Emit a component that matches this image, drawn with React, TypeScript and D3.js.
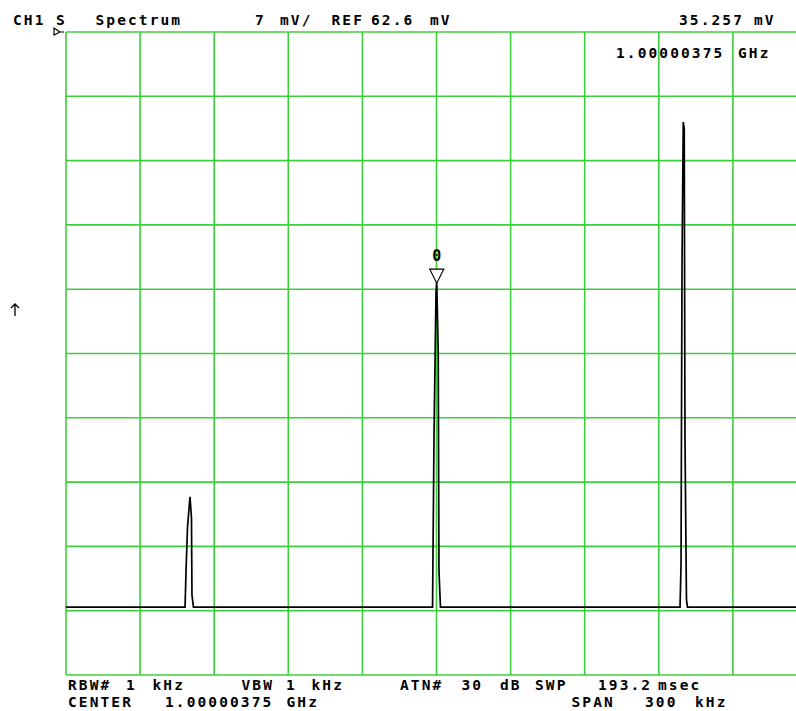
import React, { useEffect, useRef } from 'react';
import * as d3 from 'd3';

// trace points, frequency offset from center (kHz) and level (mV)
const traceKHz = [
  -150, -101.8, -101.4, -100.8, -99.8, -99.2, -99.0, -98.4,
  -1.6, -1.0, -0.2, 0.1, 0.7, 1.0, 1.6,
  98.6, 99.0, 99.4, 99.9, 100.3, 100.6, 101.2, 101.6, 150,
];
const traceMV = [
  0, 0, 4.0, 8.7, 12.0, 9.7, 1.3, 0,
  0, 18.9, 34.2, 35.257, 27.7, 4.0, 0,
  0, 4.6, 37.4, 52.8, 52.1, 18.4, 0.8, 0, 0,
];

const refLevel = 62.6; // mV, top of screen
const mvPerDiv = 7;
const spanKHz = 300;
const markerKHz = 0.1;
const markerMV = 35.257;

const headerTexts = [
  { t: 'CH1', x: 13 }, { t: 'S', x: 56 }, { t: 'Spectrum', x: 95.5 },
  { t: '7', x: 255 }, { t: 'mV/', x: 280 }, { t: 'REF', x: 331.5 },
  { t: '62.6', x: 371 }, { t: 'mV', x: 430 },
  { t: '35.257', x: 679 }, { t: 'mV', x: 754 },
];
const markerFreqTexts = [{ t: '1.00000375', x: 616 }, { t: 'GHz', x: 738 }];
const footerRow1 = [
  { t: 'RBW#', x: 68 }, { t: '1', x: 126 }, { t: 'kHz', x: 152.5 },
  { t: 'VBW', x: 241.5 }, { t: '1', x: 286 }, { t: 'kHz', x: 311.5 },
  { t: 'ATN#', x: 400 }, { t: '30', x: 461.5 }, { t: 'dB', x: 500 },
  { t: 'SWP', x: 535 }, { t: '193.2', x: 598 }, { t: 'msec', x: 658 },
];
const footerRow2 = [
  { t: 'CENTER', x: 68 }, { t: '1.00000375', x: 165 }, { t: 'GHz', x: 286.5 },
  { t: 'SPAN', x: 571.5 }, { t: '300', x: 645 }, { t: 'kHz', x: 695 },
];

const W = 796;
const H = 711;

export default function App() {
  const svgRef = useRef<SVGSVGElement>(null);

  useEffect(() => {
    const svg = d3.select(svgRef.current);
    svg.selectAll('*').remove();

    const left = 66, top = 32, gw = 741, gh = 643;
    const x = d3.scaleLinear().domain([-spanKHz / 2, spanKHz / 2]).range([left, left + gw]);
    const y = d3.scaleLinear().domain([refLevel - 10 * mvPerDiv, refLevel]).range([top + gh, top]);

    svg.append('rect').attr('width', W).attr('height', H).attr('fill', '#fff');

    // graticule
    const grid = svg.append('g').attr('stroke', '#3ccf3c').attr('stroke-width', 1.6);
    d3.range(0, 11).forEach(i => {
      const xv = x(-spanKHz / 2 + i * spanKHz / 10);
      grid.append('line').attr('x1', xv).attr('x2', xv).attr('y1', top).attr('y2', top + gh);
      const yv = y(refLevel - i * mvPerDiv);
      grid.append('line').attr('x1', left).attr('x2', left + gw).attr('y1', yv).attr('y2', yv);
    });

    // trace
    const pts = traceKHz.map((f, i) => [f, traceMV[i]] as [number, number]);
    const line = d3.line<[number, number]>().x(d => x(d[0])).y(d => y(d[1]));
    svg.append('path')
      .datum(pts)
      .attr('fill', 'none')
      .attr('stroke', '#000')
      .attr('stroke-width', 1.7)
      .attr('d', line);

    // marker
    const mx = x(markerKHz), my = y(markerMV);
    svg.append('path')
      .attr('d', `M${mx - 7},${my - 14}L${mx + 7},${my - 14}L${mx},${my}Z`)
      .attr('fill', '#fff').attr('stroke', '#000').attr('stroke-width', 1.2);
    svg.append('text')
      .attr('x', mx).attr('y', my - 22)
      .attr('text-anchor', 'middle')
      .attr('font-family', 'DejaVu Sans Mono').attr('font-weight', 'bold').attr('font-size', 15)
      .text('0');

    // reference level pointer
    svg.append('path')
      .attr('d', `M54,${top - 4}L54,${top + 3}L60,${top}Z M60,${top}L64,${top}`)
      .attr('fill', 'none').attr('stroke', '#000').attr('stroke-width', 1.2);

    // up arrow on the left
    svg.append('path')
      .attr('d', 'M15,304L15,316 M11,308L15,304L19,308')
      .attr('fill', 'none').attr('stroke', '#000').attr('stroke-width', 1.3);

    const addTexts = (items: { t: string; x: number }[], yb: number) => {
      svg.append('g')
        .selectAll('text')
        .data(items)
        .enter()
        .append('text')
        .attr('x', d => d.x)
        .attr('y', yb)
        .attr('font-family', 'DejaVu Sans Mono')
        .attr('font-weight', 'bold')
        .attr('font-size', 14.5)
        .attr('letter-spacing', 2.1)
        .attr('fill', '#000')
        .text(d => d.t);
    };
    addTexts(headerTexts, 25);
    addTexts(markerFreqTexts, 58);
    addTexts(footerRow1, 689.5);
    addTexts(footerRow2, 706.5);
  }, []);

  return (
    <svg
      ref={svgRef}
      width={W}
      height={H}
      style={{ position: 'absolute', left: 0, top: 0 }}
    />
  );
}
